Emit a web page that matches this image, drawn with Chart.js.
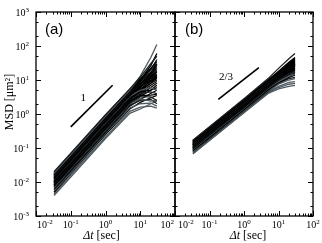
<!DOCTYPE html>
<html>
<head>
<meta charset="utf-8">
<script src="https://cdn.jsdelivr.net/npm/chart.js@4.4.0/dist/chart.umd.min.js"></script>
<style>
  html, body { margin: 0; padding: 0; background: #fff; }
  #wrap { position: relative; width: 322px; height: 243px; overflow: hidden; }
  canvas { position: absolute; top: 0; }
  #cA { left: 0; }
  #cB { left: 169px; }
</style>
</head>
<body>
<div id="wrap">
  <canvas id="cA" width="182" height="243"></canvas>
  <canvas id="cB" width="153" height="243"></canvas>
</div>
<script>
// lag times (sec) where each trajectory's MSD was read
const dt = [0.033, 0.1, 1, 5, 10, 20, 30];

// panel (a): MSD [um^2] per trajectory
const msdA = [
  [0.020, 0.070, 0.95, 5.5, 12, 30, 50],
  [0.018, 0.063, 0.85, 5.0, 13, 45, 110],
  [0.017, 0.060, 0.80, 4.8, 10, 22, 35],
  [0.016, 0.056, 0.76, 4.5, 9, 17, 25],
  [0.015, 0.053, 0.72, 4.3, 9, 20, 40],
  [0.015, 0.052, 0.70, 4.1, 7.5, 13, 18],
  [0.014, 0.049, 0.67, 4.0, 8, 15, 22],
  [0.013, 0.046, 0.62, 3.7, 6.5, 9.5, 12],
  [0.013, 0.045, 0.60, 3.6, 7, 14, 20],
  [0.012, 0.042, 0.57, 3.4, 6.5, 12, 17],
  [0.012, 0.041, 0.55, 3.3, 5, 6, 5],
  [0.011, 0.039, 0.53, 3.1, 6, 11, 14],
  [0.011, 0.038, 0.52, 3.0, 6, 13, 28],
  [0.010, 0.035, 0.48, 2.9, 5, 8, 10],
  [0.010, 0.035, 0.47, 2.8, 4.5, 5, 6],
  [0.0095, 0.033, 0.45, 2.7, 5, 9.5, 13],
  [0.009, 0.032, 0.43, 2.6, 4, 4.5, 4],
  [0.009, 0.031, 0.42, 2.5, 4.5, 8, 12],
  [0.0085, 0.030, 0.40, 2.4, 3.5, 3.6, 3.8],
  [0.008, 0.028, 0.38, 2.3, 4, 7, 9],
  [0.008, 0.028, 0.37, 2.2, 3.2, 3.2, 2.5],
  [0.0075, 0.026, 0.36, 2.1, 3.6, 6, 8],
  [0.007, 0.025, 0.34, 2.0, 2.8, 2.4, 2.6],
  [0.007, 0.024, 0.33, 1.9, 3.3, 5, 7],
  [0.0065, 0.023, 0.31, 1.8, 2.5, 2.7, 2.0],
  [0.006, 0.021, 0.29, 1.7, 2.7, 4, 5],
  [0.0055, 0.019, 0.27, 1.5, 2.0, 2.1, 1.7],
  [0.005, 0.018, 0.25, 1.4, 2.2, 3, 3.5],
  [0.0045, 0.016, 0.21, 1.2, 1.6, 1.7, 1.5],
  [0.004, 0.014, 0.19, 1.05, 1.4, 2.0, 2.4],
  [0.019, 0.066, 0.90, 5.3, 11, 20, 30],
  [0.016, 0.056, 0.78, 4.6, 10, 26, 60],
  [0.014, 0.050, 0.68, 4.0, 7, 10, 14],
  [0.012, 0.043, 0.58, 3.5, 7.5, 16, 30],
  [0.017, 0.058, 0.80, 4.6, 8, 12, 15],
  [0.011, 0.038, 0.50, 3.0, 5.5, 9, 11]
];

// panel (b): MSD [um^2] per trajectory
const msdB = [
  [0.17, 0.42, 2.8, 11, 22, 42, 60],
  [0.165, 0.41, 2.7, 10, 18, 33, 46],
  [0.16, 0.39, 2.6, 9.8, 17, 30, 40],
  [0.155, 0.38, 2.5, 9.4, 16, 28, 38],
  [0.15, 0.37, 2.4, 9.0, 16, 29, 42],
  [0.145, 0.36, 2.35, 8.8, 15, 26, 34],
  [0.14, 0.345, 2.27, 8.5, 15, 27, 36],
  [0.135, 0.33, 2.2, 8.2, 14, 24, 31],
  [0.13, 0.32, 2.1, 7.9, 14, 25, 35],
  [0.127, 0.31, 2.05, 7.7, 13, 21, 27],
  [0.124, 0.305, 2.0, 7.5, 13, 23, 32],
  [0.12, 0.295, 1.95, 7.3, 12.5, 20, 25],
  [0.117, 0.29, 1.9, 7.1, 12, 22, 30],
  [0.114, 0.28, 1.85, 6.9, 11, 17, 21],
  [0.11, 0.27, 1.78, 6.7, 11.8, 21, 29],
  [0.107, 0.265, 1.73, 6.5, 11, 19, 26],
  [0.104, 0.255, 1.68, 6.3, 10, 15, 18],
  [0.10, 0.245, 1.62, 6.1, 10.5, 18, 25],
  [0.097, 0.24, 1.57, 5.9, 10, 17, 23],
  [0.094, 0.23, 1.52, 5.7, 9, 13, 15],
  [0.09, 0.22, 1.46, 5.5, 9.5, 16, 22],
  [0.087, 0.215, 1.41, 5.3, 8.5, 12, 14],
  [0.084, 0.205, 1.36, 5.1, 8.8, 15, 20],
  [0.08, 0.20, 1.3, 4.8, 7.5, 10, 11],
  [0.077, 0.19, 1.25, 4.6, 7.8, 13, 17],
  [0.074, 0.18, 1.2, 4.4, 6.5, 8.5, 9],
  [0.07, 0.17, 1.13, 4.2, 6.0, 7.5, 8],
  [0.067, 0.165, 1.08, 4.0, 5.5, 6.5, 7],
  [0.15, 0.36, 2.3, 8.5, 14, 22, 28],
  [0.13, 0.32, 2.15, 8.0, 13.5, 23, 30],
  [0.12, 0.30, 1.98, 7.4, 12.5, 21, 28],
  [0.10, 0.25, 1.6, 6.0, 9.5, 14, 16],
  [0.085, 0.21, 1.38, 5.2, 8, 11, 12],
  [0.14, 0.35, 2.3, 8.8, 16, 30, 44],
  [0.16, 0.40, 2.6, 9.5, 16, 27, 35],
  [0.125, 0.31, 2.0, 7.6, 13, 22, 29],
  [0.105, 0.26, 1.7, 6.4, 10.5, 16, 20],
  [0.095, 0.235, 1.55, 5.8, 9.5, 15, 19]
];

// guide lines for the slopes
const slopeAx = [0.1, 1.6];
const slopeAy = [0.42, 7];
const slopeBx = [0.18, 2.7];
const slopeBy = [2.7, 23];

// ticks
const xDecades = [0.01, 0.1, 1, 10, 100];
const yDecades = [0.001, 0.01, 0.1, 1, 10, 100, 1000];
const xMinorSteps = [2, 3, 4, 5, 6, 7, 8, 9];
const yMinorSteps = [2, 5];

const grayA = [1, 26, 28, 29, 10, 22];
const grayB = [23, 25, 26, 27, 19];

function makeSets(rows, grays, sx, sy) {
  const sets = rows.map((r, i) => ({
    data: r.map((v, j) => ({ x: dt[j], y: v })),
    borderColor: grays.includes(i) ? '#4e5960' : (i % 4 === 0 ? '#1c2022' : '#000'),
    borderWidth: 1.3,
    pointRadius: 0,
    tension: 0
  }));
  sets.push({
    data: sx.map((v, j) => ({ x: v, y: sy[j] })),
    borderColor: '#000',
    borderWidth: 1.7,
    pointRadius: 0
  });
  return sets;
}

const SERIF = '"Liberation Serif", "Times New Roman", serif';

function powLabel(ctx, e, x, baseY, align) {
  const es = e < 0 ? '-' + Math.abs(e) : String(e);
  ctx.font = '10px ' + SERIF;
  const wb = ctx.measureText('10').width;
  ctx.font = '7px ' + SERIF;
  const we = ctx.measureText(es).width;
  const tot = wb + we;
  let left = x - tot / 2;
  if (align === 'left') left = x;
  if (align === 'right') left = x - tot;
  ctx.textAlign = 'left';
  ctx.textBaseline = 'alphabetic';
  ctx.font = '10px ' + SERIF;
  ctx.fillText('10', left, baseY);
  ctx.font = '7px ' + SERIF;
  ctx.fillText(es, left + wb, baseY - 4);
}

const framePlugin = {
  id: 'frame',
  afterDraw(chart, args, o) {
    const { ctx, chartArea: a, scales: { x, y } } = chart;
    ctx.save();
    ctx.strokeStyle = '#000';
    ctx.fillStyle = '#000';
    ctx.lineWidth = 1;
    ctx.beginPath();
    xDecades.forEach((d, k) => {
      const steps = k < xDecades.length - 1 ? [1].concat(xMinorSteps) : [1];
      steps.forEach(s => {
        const px = Math.round(x.getPixelForValue(d * s)) + 0.5;
        const len = s === 1 ? 5 : 2.5;
        ctx.moveTo(px, a.bottom); ctx.lineTo(px, a.bottom - len);
        ctx.moveTo(px, a.top); ctx.lineTo(px, a.top + len);
      });
    });
    yDecades.forEach((d, k) => {
      const steps = k < yDecades.length - 1 ? [1].concat(yMinorSteps) : [1];
      steps.forEach(s => {
        const py = Math.round(y.getPixelForValue(d * s)) + 0.5;
        const len = s === 1 ? 5 : 2.5;
        ctx.moveTo(a.left, py); ctx.lineTo(a.left + len, py);
        ctx.moveTo(a.right, py); ctx.lineTo(a.right - len, py);
      });
    });
    ctx.stroke();
    ctx.lineWidth = 1.3;
    ctx.strokeRect(a.left, a.top, a.right - a.left, a.bottom - a.top);

    // x tick labels
    xDecades.forEach((d, k) => {
      const px = x.getPixelForValue(d);
      let align = 'center', shift = 0;
      if (k === 0) { align = 'left'; shift = o.firstShift; }
      if (k === xDecades.length - 1) { align = o.lastAlign; shift = o.lastShift; }
      powLabel(ctx, Math.round(Math.log10(d)), px + shift, a.bottom + 12, align);
    });
    // y tick labels
    if (o.yLabels) {
      yDecades.forEach(d => {
        const py = y.getPixelForValue(d);
        powLabel(ctx, Math.round(Math.log10(d)), a.left - 7, py + 4, 'right');
      });
      ctx.save();
      ctx.translate(10, 102);
      ctx.rotate(-Math.PI / 2);
      ctx.font = '12px ' + SERIF;
      ctx.textAlign = 'center';
      ctx.textBaseline = 'middle';
      ctx.fillText('MSD [\u03bcm\u00b2]', 0, 0);
      ctx.restore();
    }
    // x title
    ctx.textBaseline = 'alphabetic';
    ctx.textAlign = 'left';
    ctx.font = 'italic 12px ' + SERIF;
    const w1 = ctx.measureText('\u0394t').width;
    ctx.font = '12px ' + SERIF;
    const w2 = ctx.measureText(' [sec]').width;
    const cx = (a.left + a.right) / 2 + o.titleShift;
    ctx.font = 'italic 12px ' + SERIF;
    ctx.fillText('\u0394t', cx - (w1 + w2) / 2, 239);
    ctx.font = '12px ' + SERIF;
    ctx.fillText(' [sec]', cx - (w1 + w2) / 2 + w1, 239);

    // slope text
    ctx.font = '11px ' + SERIF;
    ctx.textAlign = 'center';
    ctx.textBaseline = 'middle';
    ctx.fillText(o.slopeText, x.getPixelForValue(o.slopeX), y.getPixelForValue(o.slopeY));

    // panel tag
    ctx.font = '15px "Liberation Sans", Arial, sans-serif';
    ctx.textAlign = 'left';
    ctx.fillText(o.tag, a.left + o.tagDx, a.top + 18);
    ctx.restore();
  }
};

function options(pad, panel) {
  return {
    responsive: false,
    animation: false,
    events: [],
    layout: { padding: pad },
    plugins: { legend: { display: false }, tooltip: { enabled: false }, frame: panel },
    scales: {
      x: { type: 'logarithmic', min: 0.01, max: 100, display: false },
      y: { type: 'logarithmic', min: 0.001, max: 1000, display: false }
    }
  };
}

window.onload = function () {
  new Chart(document.getElementById('cA').getContext('2d'), {
    type: 'line',
    data: { datasets: makeSets(msdA, grayA, slopeAx, slopeAy) },
    options: options({ left: 36, right: 7, top: 12, bottom: 27 },
      { tag: '(a)', tagDx: 9, yLabels: true, slopeText: '1', slopeX: 0.23, slopeY: 3,
        firstShift: 1, lastAlign: 'right', lastShift: -1, titleShift: -4 }),
    plugins: [framePlugin]
  });
  new Chart(document.getElementById('cB').getContext('2d'), {
    type: 'line',
    data: { datasets: makeSets(msdB, grayB, slopeBx, slopeBy) },
    options: options({ left: 6, right: 9, top: 12, bottom: 27 },
      { tag: '(b)', tagDx: 10, yLabels: false, slopeText: '2/3', slopeX: 0.3, slopeY: 12,
        firstShift: 3, lastAlign: 'center', lastShift: 0, titleShift: 4 }),
    plugins: [framePlugin]
  });
};
</script>
</body>
</html>
